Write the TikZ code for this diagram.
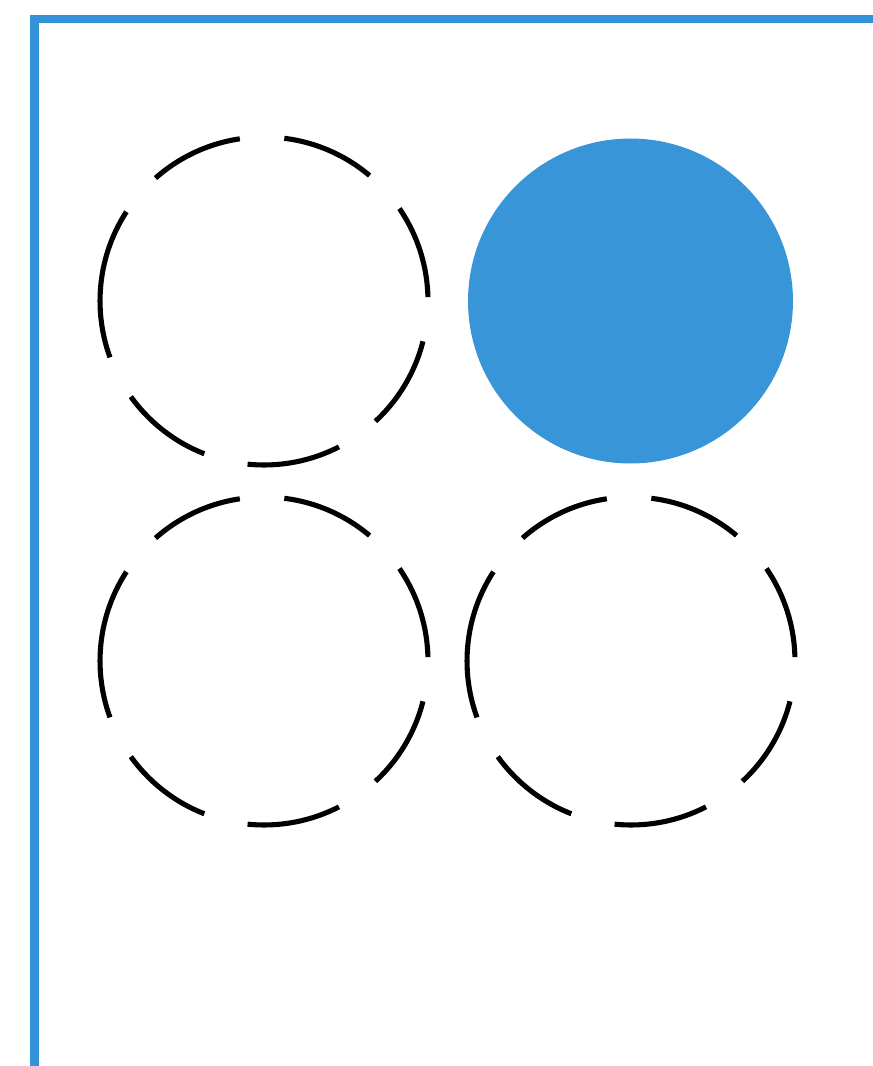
\documentclass[tikz,border=0pt]{standalone}
\definecolor{frameblue}{HTML}{3493D8}
\definecolor{fillblue}{HTML}{3795D8}
\begin{document}
\begin{tikzpicture}[x=0.02cm,y=-0.02cm,
  ring/.style={circle,inner sep=0pt,outer sep=0pt,minimum size=6.56cm},
  dashring/.style={draw=black,line width=2.9pt,dash pattern=on 53.7pt off 25.4pt},
  fillcircle/.style={circle,fill=fillblue,draw=none,inner sep=0pt,outer sep=0pt,minimum size=6.5cm},
  frameline/.style={draw=frameblue,line width=5pt,line join=miter}]
\useasboundingbox (0,0) rectangle (873,1066);
\coordinate (topend) at (873,19);
\coordinate (corner) at (34.5,19);
\coordinate (bottomend) at (34.5,1066);
\draw[frameline] (topend) -- (corner) -- (bottomend);
\node[ring] (tl) at (264,301) {};
\node[fillcircle] (tr) at (630.5,301) {};
\node[ring] (bl) at (264,661) {};
\node[ring] (br) at (631,661) {};
\draw[dashring] (tl.west) arc[start angle=180,end angle=-180,radius=3.28cm];
\draw[dashring] (bl.west) arc[start angle=180,end angle=-180,radius=3.28cm];
\draw[dashring] (br.west) arc[start angle=180,end angle=-180,radius=3.28cm];
\end{tikzpicture}
\end{document}
